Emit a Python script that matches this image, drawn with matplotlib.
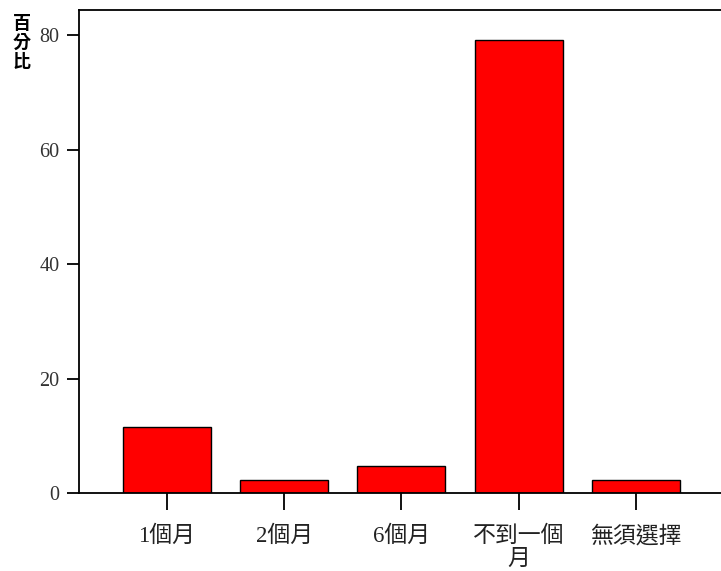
import matplotlib
matplotlib.use("Agg")
import matplotlib.pyplot as plt

categories = ["1個月", "2個月", "6個月", "不到一個\n月", "無須選擇"]
values = [11.5, 2.3, 4.7, 79.1, 2.3]
yticks = [0, 20, 40, 60, 80]

fam = ["Liberation Serif", "Noto Sans CJK TC", "DejaVu Sans"]
plt.rcParams["font.family"] = fam

fig = plt.figure(figsize=(7.21, 5.71), dpi=100)
ax = fig.add_axes([79/721, 78/571, 1 - 79/721, (493 - 10)/571])

x = list(range(len(categories)))
ax.bar(x, values, width=0.75, color="#ff0000", edgecolor="black", linewidth=1.0)

ax.set_xlim(-0.75, 4.725)
ax.set_ylim(0, 84.4)
ax.set_yticks(yticks)
ax.set_yticklabels([str(v) for v in yticks])
ax.set_xticks(x)
ax.set_xticklabels(categories, linespacing=1.12)

for s in ["left", "bottom", "top"]:
    ax.spines[s].set_linewidth(1.3)
    ax.spines[s].set_color("black")
ax.spines["right"].set_visible(False)

ax.tick_params(axis="y", length=9, width=1.3, pad=5, labelsize=14.5, colors="black")
ax.tick_params(axis="x", length=12.5, width=1.3, pad=11, labelsize=16.5, colors="black")
for lbl in ax.get_yticklabels():
    lbl.set_color("#333333")
for lbl in ax.get_xticklabels():
    lbl.set_color("#222222")

fig.text(22/721, 1 - 14/571, "百\n分\n比", ha="center", va="top", fontsize=13,
         fontweight="bold", linespacing=1.0, family=["Noto Sans CJK TC", "DejaVu Sans"])

fig.savefig("out.png", dpi=100)
